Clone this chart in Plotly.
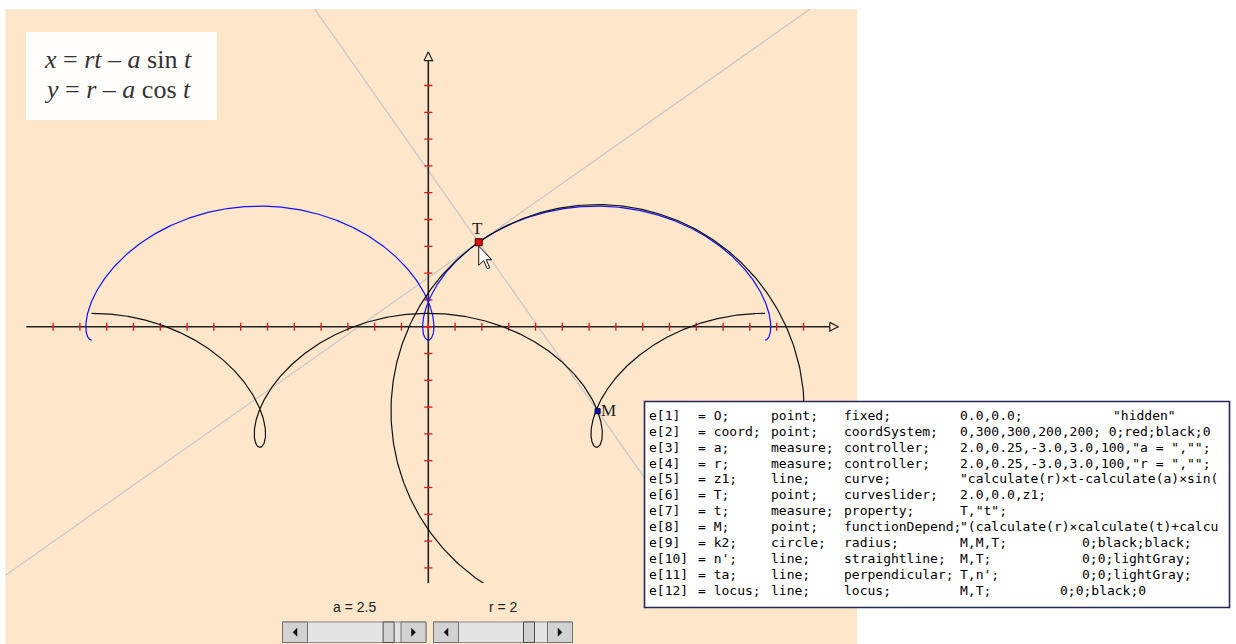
import numpy as np
import plotly.graph_objects as go

# Trochoid  x = r t - a sin t,  y = r - a cos t
a_val = 2.5
r_val = 2.0
t_point = 2.05                 # curve parameter of the slider point T
t_start = -2 * np.pi
t_end = 2 * np.pi

x_tick_values = list(range(-14, 15))
y_tick_values = list(range(-9, 10))

slider_names = ["a", "r"]
slider_values = [a_val, r_val]
slider_min, slider_max = -3.0, 3.0

table_rows = [
    ["e[1]", "= O;", "point;", "fixed;", "0.0,0.0;", '"hidden"'],
    ["e[2]", "= coord;", "point;", "coordSystem;", "0,300,300,200,200; 0;red;black;0", ""],
    ["e[3]", "= a;", "measure;", "controller;", '2.0,0.25,-3.0,3.0,100,"a = ","";', ""],
    ["e[4]", "= r;", "measure;", "controller;", '2.0,0.25,-3.0,3.0,100,"r = ","";', ""],
    ["e[5]", "= z1;", "line;", "curve;", '"calculate(r)×t-calculate(a)×sin(', ""],
    ["e[6]", "= T;", "point;", "curveslider;", "2.0,0.0,z1;", ""],
    ["e[7]", "= t;", "measure;", "property;", 'T,"t";', ""],
    ["e[8]", "= M;", "point;", "functionDepend;", '"(calculate(r)×calculate(t)+calcu', ""],
    ["e[9]", "= k2;", "circle;", "radius;", "M,M,T;", "0;black;black;"],
    ["e[10]", "= n';", "line;", "straightline;", "M,T;", "0;0;lightGray;"],
    ["e[11]", "= ta;", "line;", "perpendicular;", "T,n';", "0;0;lightGray;"],
    ["e[12]", "= locus;", "line;", "locus;", "M,T;", "0;0;black;0"],
]

# ---------------------------------------------------------------- layout helpers
W, H = 1236, 644
BEIGE = "#FDE6CA"


def px(x):
    return x / W


def py(y):
    return 1 - y / H


UNIT = 26.8                      # screen pixels per coordinate unit
ORIGIN = (428.3, 326.7)          # screen position of (0, 0)
PANEL = (5.5, 9.0, 857.0, 644.0)  # left, top, right, bottom of the applet panel
DRAW_BOTTOM = 583.0              # lower edge of the drawing area

x_range = [(PANEL[0] - ORIGIN[0]) / UNIT, (PANEL[2] - ORIGIN[0]) / UNIT]
y_range = [-(DRAW_BOTTOM - ORIGIN[1]) / UNIT, (ORIGIN[1] - PANEL[1]) / UNIT]

# ---------------------------------------------------------------- geometry
t = np.linspace(t_start, t_end, 1600)
curve_x = r_val * t - a_val * np.sin(t)
curve_y = r_val - a_val * np.cos(t)

# M is the reflection of T through the contact point (r t, 0)
locus_x = r_val * t + a_val * np.sin(t)
locus_y = a_val * np.cos(t) - r_val

Tx = r_val * t_point - a_val * np.sin(t_point)
Ty = r_val - a_val * np.cos(t_point)
Mx = r_val * t_point + a_val * np.sin(t_point)
My = a_val * np.cos(t_point) - r_val

radius = np.hypot(Mx - Tx, My - Ty)
phi = np.linspace(0, 2 * np.pi, 400)
circle_x = Mx + radius * np.cos(phi)
circle_y = My + radius * np.sin(phi)

dx, dy = (Mx - Tx) / radius, (My - Ty) / radius
s = np.array([-60, 60])
normal_x, normal_y = Tx + s * dx, Ty + s * dy
tangent_x, tangent_y = Tx - s * dy, Ty + s * dx

fig = go.Figure()

# construction lines
for lx, ly in [(normal_x, normal_y), (tangent_x, tangent_y)]:
    fig.add_trace(go.Scatter(x=lx, y=ly, mode="lines",
                             line=dict(color="#C4C4C4", width=1.1), hoverinfo="skip"))

# coordinate axes with arrow heads
x_lo, x_hi = -15.0, 15.3
y_lo, y_hi = -10.0, 10.25
ah, aw = 0.32, 0.16
fig.add_trace(go.Scatter(x=[x_lo, x_hi], y=[0, 0], mode="lines",
                         line=dict(color="#222222", width=1.6), hoverinfo="skip"))
fig.add_trace(go.Scatter(x=[0, 0], y=[y_lo, y_hi], mode="lines",
                         line=dict(color="#222222", width=1.6), hoverinfo="skip"))
fig.add_trace(go.Scatter(x=[x_hi - ah, x_hi, x_hi - ah, x_hi - ah], y=[aw, 0, -aw, aw],
                         mode="lines", line=dict(color="#222222", width=1.2),
                         fill="toself", fillcolor=BEIGE, hoverinfo="skip"))
fig.add_trace(go.Scatter(x=[-aw, 0, aw, -aw], y=[y_hi - ah, y_hi, y_hi - ah, y_hi - ah],
                         mode="lines", line=dict(color="#222222", width=1.2),
                         fill="toself", fillcolor=BEIGE, hoverinfo="skip"))

# red tick marks
tk = 0.15
tick_x, tick_y = [], []
for v in x_tick_values:
    tick_x += [v, v, None]
    tick_y += [-tk, tk, None]
for v in y_tick_values:
    tick_x += [-tk, tk, None]
    tick_y += [v, v, None]
fig.add_trace(go.Scatter(x=tick_x, y=tick_y, mode="lines",
                         line=dict(color="#F01010", width=1.3), hoverinfo="skip"))

# curve, circle and locus
fig.add_trace(go.Scatter(x=curve_x, y=curve_y, mode="lines",
                         line=dict(color="#1010FF", width=1.2), hoverinfo="skip"))
fig.add_trace(go.Scatter(x=circle_x, y=circle_y, mode="lines",
                         line=dict(color="#111111", width=1.2), hoverinfo="skip"))
fig.add_trace(go.Scatter(x=locus_x, y=locus_y, mode="lines",
                         line=dict(color="#111111", width=1.2), hoverinfo="skip"))

# points T and M
fig.add_trace(go.Scatter(x=[Tx], y=[Ty], mode="markers",
                         marker=dict(symbol="square", size=7, color="#E01010",
                                     line=dict(color="#400000", width=1)),
                         hoverinfo="skip"))
fig.add_trace(go.Scatter(x=[Mx], y=[My], mode="markers",
                         marker=dict(symbol="square", size=5, color="#1010C0",
                                     line=dict(color="#000040", width=1)),
                         hoverinfo="skip"))

shapes = []
annotations = []

# applet panel background
shapes.append(dict(type="rect", xref="paper", yref="paper", layer="below",
                   x0=px(PANEL[0]), x1=px(PANEL[2]), y0=py(PANEL[3]), y1=py(PANEL[1]),
                   fillcolor=BEIGE, line=dict(width=0)))

# mouse pointer at T
shapes.append(dict(type="path", xref="x", yref="y", xsizemode="pixel", ysizemode="pixel",
                   xanchor=Tx, yanchor=Ty,
                   path="M0,-4 L0,-23 L5,-18.5 L8.5,-26.5 L11,-25.5 L7.5,-17.5 L13,-17.5 Z",
                   fillcolor="white", line=dict(color="#111111", width=1)))

# point labels
font_serif = "Liberation Serif, Times New Roman, serif"
annotations.append(dict(x=Tx, y=Ty, xref="x", yref="y", text="T", showarrow=False,
                        xshift=-1, yshift=14, font=dict(family=font_serif, size=17, color="#222")))
annotations.append(dict(x=Mx, y=My, xref="x", yref="y", text="M", showarrow=False,
                        xanchor="left", xshift=1, yshift=1,
                        font=dict(family=font_serif, size=17, color="#222")))

# equation box
shapes.append(dict(type="rect", xref="paper", yref="paper", layer="above",
                   x0=px(26), x1=px(217), y0=py(120), y1=py(32),
                   fillcolor="#FFFDFB", line=dict(width=0)))
eq_lines = ["<i>x</i> = <i>rt</i> \u2013 <i>a</i> sin <i>t</i>",
            "<i>y</i> = <i>r</i> \u2013 <i>a</i> cos <i>t</i>"]
for i, txt in enumerate(eq_lines):
    annotations.append(dict(x=px(42), y=py(60 + 29 * i), xref="paper", yref="paper",
                            xanchor="left", yanchor="middle", text=txt, showarrow=False,
                            font=dict(family=font_serif, size=26, color="#333333")))

# slider controls
slider_boxes = [(282.5, 426.0), (433.5, 572.5)]
for name, val, (sx0, sx1) in zip(slider_names, slider_values, slider_boxes):
    sy0, sy1 = 622.0, 642.5
    bw = 25.0
    thumb_w = 11.0
    annotations.append(dict(x=px((sx0 + sx1) / 2), y=py(606.5), xref="paper", yref="paper",
                            xanchor="center", yanchor="middle",
                            text=f"{name} = {val:g}", showarrow=False,
                            font=dict(family="Liberation Sans, Arial, sans-serif",
                                      size=14, color="#222")))
    # track
    shapes.append(dict(type="rect", xref="paper", yref="paper", layer="above",
                       x0=px(sx0), x1=px(sx1), y0=py(sy1), y1=py(sy0),
                       fillcolor="#E4E4E4", line=dict(color="#8A8A8A", width=1)))
    # end buttons
    for bx0 in (sx0, sx1 - bw):
        shapes.append(dict(type="rect", xref="paper", yref="paper", layer="above",
                           x0=px(bx0), x1=px(bx0 + bw), y0=py(sy1), y1=py(sy0),
                           fillcolor="#D2D2D2", line=dict(color="#6E6E6E", width=1)))
    cy = (sy0 + sy1) / 2
    lx = sx0 + bw / 2
    rx = sx1 - bw / 2
    shapes.append(dict(type="path", xref="paper", yref="paper", layer="above",
                       path=f"M{px(lx - 2)},{py(cy)} L{px(lx + 2)},{py(cy - 4)} "
                            f"L{px(lx + 2)},{py(cy + 4)} Z",
                       fillcolor="#111", line=dict(color="#111", width=0.5)))
    shapes.append(dict(type="path", xref="paper", yref="paper", layer="above",
                       path=f"M{px(rx + 2)},{py(cy)} L{px(rx - 2)},{py(cy - 4)} "
                            f"L{px(rx - 2)},{py(cy + 4)} Z",
                       fillcolor="#111", line=dict(color="#111", width=0.5)))
    # thumb placed from the controller value
    track0, track1 = sx0 + bw, sx1 - bw
    frac = (val - slider_min) / (slider_max - slider_min)
    tx0 = track0 + frac * (track1 - track0 - thumb_w)
    shapes.append(dict(type="rect", xref="paper", yref="paper", layer="above",
                       x0=px(tx0), x1=px(tx0 + thumb_w), y0=py(sy1), y1=py(sy0),
                       fillcolor="#D2D2D2", line=dict(color="#4A4A4A", width=1)))

# element listing
shapes.append(dict(type="rect", xref="paper", yref="paper", layer="above",
                   x0=px(644.5), x1=px(1229.5), y0=py(607.5), y1=py(401.5),
                   fillcolor="white", line=dict(color="#26265E", width=1.6)))
col_x = [647, 696, 769, 841.5, 958, None]
extra_x = {0: 1111, 8: 1080, 9: 1080, 10: 1080, 11: 1058}
mono = "DejaVu Sans Mono, Liberation Mono, monospace"
for i, row in enumerate(table_rows):
    yy = 415.3 + 15.9 * i
    for j, cell in enumerate(row):
        if not cell:
            continue
        xx = col_x[j] if j < 5 else extra_x[i]
        annotations.append(dict(x=px(xx), y=py(yy), xref="paper", yref="paper",
                                xanchor="left", yanchor="middle", text=cell, showarrow=False,
                                font=dict(family=mono, size=13, color="#000000")))

fig.update_layout(
    width=W, height=H,
    margin=dict(l=0, r=0, t=0, b=0),
    paper_bgcolor="white",
    plot_bgcolor="rgba(0,0,0,0)",
    showlegend=False,
    xaxis=dict(domain=[px(PANEL[0]), px(PANEL[2])], range=x_range, visible=False,
               fixedrange=True),
    yaxis=dict(domain=[py(DRAW_BOTTOM), py(PANEL[1])], range=y_range, visible=False,
               fixedrange=True),
    shapes=shapes,
    annotations=annotations,
)

fig.write_html("out.html")
